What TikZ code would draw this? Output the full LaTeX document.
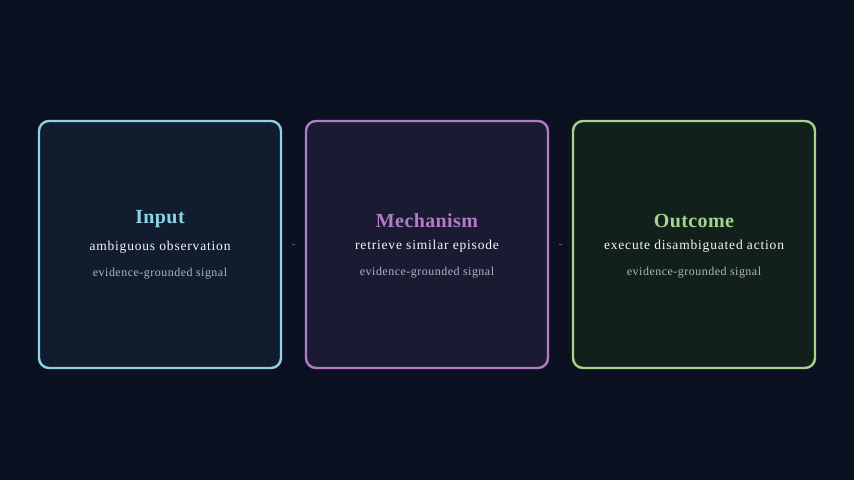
\documentclass[tikz,border=0pt]{standalone}
\usepackage{fontspec}
\setmainfont{Liberation Serif}
\usetikzlibrary{positioning}
\definecolor{bgdark}{HTML}{0B1120}
\definecolor{cyanline}{HTML}{8DD3E3}
\definecolor{cyanfill}{HTML}{111C2E}
\definecolor{violetline}{HTML}{B07CC6}
\definecolor{violetfill}{HTML}{1B1A33}
\definecolor{greenline}{HTML}{A6D38D}
\definecolor{greenfill}{HTML}{12201B}
\definecolor{softgray}{HTML}{B4B4BC}
\definecolor{dashgray}{HTML}{5A6070}
\begin{document}
\begin{tikzpicture}[x=1pt,y=-1pt,
  stage/.style={draw=#1, line width=2.4pt, rounded corners=10pt, minimum width=242pt, minimum height=247pt, inner sep=0pt},
  headline/.style={font=\fontsize{20}{22}\selectfont\bfseries\addfontfeatures{LetterSpace=2}, text=#1},
  mainline/.style={font=\fontsize{13.5}{15}\selectfont\addfontfeatures{LetterSpace=6}, text=white!94!gray},
  noteline/.style={font=\fontsize{12}{14}\selectfont\addfontfeatures{LetterSpace=4}, text=softgray},
  link/.style={draw=dashgray, line width=0.8pt, shorten >=10pt, shorten <=10pt}]
\fill[bgdark] (0,0) rectangle (854,480);
\useasboundingbox (0,0) rectangle (854,480);
\node[stage=cyanline, fill=cyanfill] (in) at (160,244.5) {};
\node[stage=violetline, fill=violetfill] (mech) at (427,244.5) {};
\node[stage=greenline, fill=greenfill] (out) at (694,244.5) {};
\node[headline=cyanline] (intitle) at (160,219) {Input};
\node[mainline] (inmain) at (160,247) {ambiguous observation};
\node[noteline] (innote) at (160,274) {evidence-grounded signal};
\node[headline=violetline] (mechtitle) at (427,221) {Mechanism};
\node[mainline] (mechmain) at (427,246) {retrieve similar episode};
\node[noteline] (mechnote) at (427,273) {evidence-grounded signal};
\node[headline=greenline] (outtitle) at (694,221) {Outcome};
\node[mainline] (outmain) at (694,246) {execute disambiguated action};
\node[noteline] (outnote) at (694,273) {evidence-grounded signal};
\draw[link] (in.east) -- (mech.west);
\draw[link] (mech.east) -- (out.west);
\end{tikzpicture}
\end{document}
